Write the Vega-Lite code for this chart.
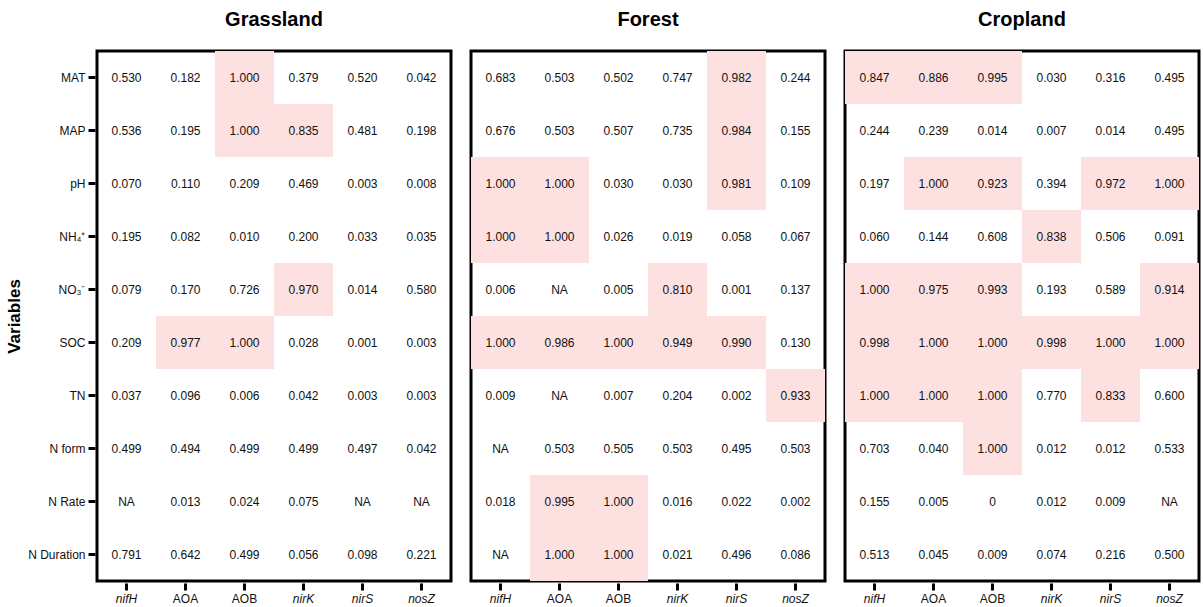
{
  "$schema": "https://vega.github.io/schema/vega-lite/v6.json",
  "padding": {"left": 5, "top": 10, "right": 0, "bottom": 0},
  "background": "white",
  "data": {
    "values": [
      {"eco": "Grassland", "var": "MAT", "gene": "nifH", "v": "0.530"},
      {"eco": "Grassland", "var": "MAT", "gene": "AOA", "v": "0.182"},
      {"eco": "Grassland", "var": "MAT", "gene": "AOB", "v": "1.000"},
      {"eco": "Grassland", "var": "MAT", "gene": "nirK", "v": "0.379"},
      {"eco": "Grassland", "var": "MAT", "gene": "nirS", "v": "0.520"},
      {"eco": "Grassland", "var": "MAT", "gene": "nosZ", "v": "0.042"},
      {"eco": "Grassland", "var": "MAP", "gene": "nifH", "v": "0.536"},
      {"eco": "Grassland", "var": "MAP", "gene": "AOA", "v": "0.195"},
      {"eco": "Grassland", "var": "MAP", "gene": "AOB", "v": "1.000"},
      {"eco": "Grassland", "var": "MAP", "gene": "nirK", "v": "0.835"},
      {"eco": "Grassland", "var": "MAP", "gene": "nirS", "v": "0.481"},
      {"eco": "Grassland", "var": "MAP", "gene": "nosZ", "v": "0.198"},
      {"eco": "Grassland", "var": "pH", "gene": "nifH", "v": "0.070"},
      {"eco": "Grassland", "var": "pH", "gene": "AOA", "v": "0.110"},
      {"eco": "Grassland", "var": "pH", "gene": "AOB", "v": "0.209"},
      {"eco": "Grassland", "var": "pH", "gene": "nirK", "v": "0.469"},
      {"eco": "Grassland", "var": "pH", "gene": "nirS", "v": "0.003"},
      {"eco": "Grassland", "var": "pH", "gene": "nosZ", "v": "0.008"},
      {"eco": "Grassland", "var": "NH₄⁺", "gene": "nifH", "v": "0.195"},
      {"eco": "Grassland", "var": "NH₄⁺", "gene": "AOA", "v": "0.082"},
      {"eco": "Grassland", "var": "NH₄⁺", "gene": "AOB", "v": "0.010"},
      {"eco": "Grassland", "var": "NH₄⁺", "gene": "nirK", "v": "0.200"},
      {"eco": "Grassland", "var": "NH₄⁺", "gene": "nirS", "v": "0.033"},
      {"eco": "Grassland", "var": "NH₄⁺", "gene": "nosZ", "v": "0.035"},
      {"eco": "Grassland", "var": "NO₃⁻", "gene": "nifH", "v": "0.079"},
      {"eco": "Grassland", "var": "NO₃⁻", "gene": "AOA", "v": "0.170"},
      {"eco": "Grassland", "var": "NO₃⁻", "gene": "AOB", "v": "0.726"},
      {"eco": "Grassland", "var": "NO₃⁻", "gene": "nirK", "v": "0.970"},
      {"eco": "Grassland", "var": "NO₃⁻", "gene": "nirS", "v": "0.014"},
      {"eco": "Grassland", "var": "NO₃⁻", "gene": "nosZ", "v": "0.580"},
      {"eco": "Grassland", "var": "SOC", "gene": "nifH", "v": "0.209"},
      {"eco": "Grassland", "var": "SOC", "gene": "AOA", "v": "0.977"},
      {"eco": "Grassland", "var": "SOC", "gene": "AOB", "v": "1.000"},
      {"eco": "Grassland", "var": "SOC", "gene": "nirK", "v": "0.028"},
      {"eco": "Grassland", "var": "SOC", "gene": "nirS", "v": "0.001"},
      {"eco": "Grassland", "var": "SOC", "gene": "nosZ", "v": "0.003"},
      {"eco": "Grassland", "var": "TN", "gene": "nifH", "v": "0.037"},
      {"eco": "Grassland", "var": "TN", "gene": "AOA", "v": "0.096"},
      {"eco": "Grassland", "var": "TN", "gene": "AOB", "v": "0.006"},
      {"eco": "Grassland", "var": "TN", "gene": "nirK", "v": "0.042"},
      {"eco": "Grassland", "var": "TN", "gene": "nirS", "v": "0.003"},
      {"eco": "Grassland", "var": "TN", "gene": "nosZ", "v": "0.003"},
      {"eco": "Grassland", "var": "N form", "gene": "nifH", "v": "0.499"},
      {"eco": "Grassland", "var": "N form", "gene": "AOA", "v": "0.494"},
      {"eco": "Grassland", "var": "N form", "gene": "AOB", "v": "0.499"},
      {"eco": "Grassland", "var": "N form", "gene": "nirK", "v": "0.499"},
      {"eco": "Grassland", "var": "N form", "gene": "nirS", "v": "0.497"},
      {"eco": "Grassland", "var": "N form", "gene": "nosZ", "v": "0.042"},
      {"eco": "Grassland", "var": "N Rate", "gene": "nifH", "v": "NA"},
      {"eco": "Grassland", "var": "N Rate", "gene": "AOA", "v": "0.013"},
      {"eco": "Grassland", "var": "N Rate", "gene": "AOB", "v": "0.024"},
      {"eco": "Grassland", "var": "N Rate", "gene": "nirK", "v": "0.075"},
      {"eco": "Grassland", "var": "N Rate", "gene": "nirS", "v": "NA"},
      {"eco": "Grassland", "var": "N Rate", "gene": "nosZ", "v": "NA"},
      {"eco": "Grassland", "var": "N Duration", "gene": "nifH", "v": "0.791"},
      {"eco": "Grassland", "var": "N Duration", "gene": "AOA", "v": "0.642"},
      {"eco": "Grassland", "var": "N Duration", "gene": "AOB", "v": "0.499"},
      {"eco": "Grassland", "var": "N Duration", "gene": "nirK", "v": "0.056"},
      {"eco": "Grassland", "var": "N Duration", "gene": "nirS", "v": "0.098"},
      {"eco": "Grassland", "var": "N Duration", "gene": "nosZ", "v": "0.221"},

      {"eco": "Forest", "var": "MAT", "gene": "nifH", "v": "0.683"},
      {"eco": "Forest", "var": "MAT", "gene": "AOA", "v": "0.503"},
      {"eco": "Forest", "var": "MAT", "gene": "AOB", "v": "0.502"},
      {"eco": "Forest", "var": "MAT", "gene": "nirK", "v": "0.747"},
      {"eco": "Forest", "var": "MAT", "gene": "nirS", "v": "0.982"},
      {"eco": "Forest", "var": "MAT", "gene": "nosZ", "v": "0.244"},
      {"eco": "Forest", "var": "MAP", "gene": "nifH", "v": "0.676"},
      {"eco": "Forest", "var": "MAP", "gene": "AOA", "v": "0.503"},
      {"eco": "Forest", "var": "MAP", "gene": "AOB", "v": "0.507"},
      {"eco": "Forest", "var": "MAP", "gene": "nirK", "v": "0.735"},
      {"eco": "Forest", "var": "MAP", "gene": "nirS", "v": "0.984"},
      {"eco": "Forest", "var": "MAP", "gene": "nosZ", "v": "0.155"},
      {"eco": "Forest", "var": "pH", "gene": "nifH", "v": "1.000"},
      {"eco": "Forest", "var": "pH", "gene": "AOA", "v": "1.000"},
      {"eco": "Forest", "var": "pH", "gene": "AOB", "v": "0.030"},
      {"eco": "Forest", "var": "pH", "gene": "nirK", "v": "0.030"},
      {"eco": "Forest", "var": "pH", "gene": "nirS", "v": "0.981"},
      {"eco": "Forest", "var": "pH", "gene": "nosZ", "v": "0.109"},
      {"eco": "Forest", "var": "NH₄⁺", "gene": "nifH", "v": "1.000"},
      {"eco": "Forest", "var": "NH₄⁺", "gene": "AOA", "v": "1.000"},
      {"eco": "Forest", "var": "NH₄⁺", "gene": "AOB", "v": "0.026"},
      {"eco": "Forest", "var": "NH₄⁺", "gene": "nirK", "v": "0.019"},
      {"eco": "Forest", "var": "NH₄⁺", "gene": "nirS", "v": "0.058"},
      {"eco": "Forest", "var": "NH₄⁺", "gene": "nosZ", "v": "0.067"},
      {"eco": "Forest", "var": "NO₃⁻", "gene": "nifH", "v": "0.006"},
      {"eco": "Forest", "var": "NO₃⁻", "gene": "AOA", "v": "NA"},
      {"eco": "Forest", "var": "NO₃⁻", "gene": "AOB", "v": "0.005"},
      {"eco": "Forest", "var": "NO₃⁻", "gene": "nirK", "v": "0.810"},
      {"eco": "Forest", "var": "NO₃⁻", "gene": "nirS", "v": "0.001"},
      {"eco": "Forest", "var": "NO₃⁻", "gene": "nosZ", "v": "0.137"},
      {"eco": "Forest", "var": "SOC", "gene": "nifH", "v": "1.000"},
      {"eco": "Forest", "var": "SOC", "gene": "AOA", "v": "0.986"},
      {"eco": "Forest", "var": "SOC", "gene": "AOB", "v": "1.000"},
      {"eco": "Forest", "var": "SOC", "gene": "nirK", "v": "0.949"},
      {"eco": "Forest", "var": "SOC", "gene": "nirS", "v": "0.990"},
      {"eco": "Forest", "var": "SOC", "gene": "nosZ", "v": "0.130"},
      {"eco": "Forest", "var": "TN", "gene": "nifH", "v": "0.009"},
      {"eco": "Forest", "var": "TN", "gene": "AOA", "v": "NA"},
      {"eco": "Forest", "var": "TN", "gene": "AOB", "v": "0.007"},
      {"eco": "Forest", "var": "TN", "gene": "nirK", "v": "0.204"},
      {"eco": "Forest", "var": "TN", "gene": "nirS", "v": "0.002"},
      {"eco": "Forest", "var": "TN", "gene": "nosZ", "v": "0.933"},
      {"eco": "Forest", "var": "N form", "gene": "nifH", "v": "NA"},
      {"eco": "Forest", "var": "N form", "gene": "AOA", "v": "0.503"},
      {"eco": "Forest", "var": "N form", "gene": "AOB", "v": "0.505"},
      {"eco": "Forest", "var": "N form", "gene": "nirK", "v": "0.503"},
      {"eco": "Forest", "var": "N form", "gene": "nirS", "v": "0.495"},
      {"eco": "Forest", "var": "N form", "gene": "nosZ", "v": "0.503"},
      {"eco": "Forest", "var": "N Rate", "gene": "nifH", "v": "0.018"},
      {"eco": "Forest", "var": "N Rate", "gene": "AOA", "v": "0.995"},
      {"eco": "Forest", "var": "N Rate", "gene": "AOB", "v": "1.000"},
      {"eco": "Forest", "var": "N Rate", "gene": "nirK", "v": "0.016"},
      {"eco": "Forest", "var": "N Rate", "gene": "nirS", "v": "0.022"},
      {"eco": "Forest", "var": "N Rate", "gene": "nosZ", "v": "0.002"},
      {"eco": "Forest", "var": "N Duration", "gene": "nifH", "v": "NA"},
      {"eco": "Forest", "var": "N Duration", "gene": "AOA", "v": "1.000"},
      {"eco": "Forest", "var": "N Duration", "gene": "AOB", "v": "1.000"},
      {"eco": "Forest", "var": "N Duration", "gene": "nirK", "v": "0.021"},
      {"eco": "Forest", "var": "N Duration", "gene": "nirS", "v": "0.496"},
      {"eco": "Forest", "var": "N Duration", "gene": "nosZ", "v": "0.086"},

      {"eco": "Cropland", "var": "MAT", "gene": "nifH", "v": "0.847"},
      {"eco": "Cropland", "var": "MAT", "gene": "AOA", "v": "0.886"},
      {"eco": "Cropland", "var": "MAT", "gene": "AOB", "v": "0.995"},
      {"eco": "Cropland", "var": "MAT", "gene": "nirK", "v": "0.030"},
      {"eco": "Cropland", "var": "MAT", "gene": "nirS", "v": "0.316"},
      {"eco": "Cropland", "var": "MAT", "gene": "nosZ", "v": "0.495"},
      {"eco": "Cropland", "var": "MAP", "gene": "nifH", "v": "0.244"},
      {"eco": "Cropland", "var": "MAP", "gene": "AOA", "v": "0.239"},
      {"eco": "Cropland", "var": "MAP", "gene": "AOB", "v": "0.014"},
      {"eco": "Cropland", "var": "MAP", "gene": "nirK", "v": "0.007"},
      {"eco": "Cropland", "var": "MAP", "gene": "nirS", "v": "0.014"},
      {"eco": "Cropland", "var": "MAP", "gene": "nosZ", "v": "0.495"},
      {"eco": "Cropland", "var": "pH", "gene": "nifH", "v": "0.197"},
      {"eco": "Cropland", "var": "pH", "gene": "AOA", "v": "1.000"},
      {"eco": "Cropland", "var": "pH", "gene": "AOB", "v": "0.923"},
      {"eco": "Cropland", "var": "pH", "gene": "nirK", "v": "0.394"},
      {"eco": "Cropland", "var": "pH", "gene": "nirS", "v": "0.972"},
      {"eco": "Cropland", "var": "pH", "gene": "nosZ", "v": "1.000"},
      {"eco": "Cropland", "var": "NH₄⁺", "gene": "nifH", "v": "0.060"},
      {"eco": "Cropland", "var": "NH₄⁺", "gene": "AOA", "v": "0.144"},
      {"eco": "Cropland", "var": "NH₄⁺", "gene": "AOB", "v": "0.608"},
      {"eco": "Cropland", "var": "NH₄⁺", "gene": "nirK", "v": "0.838"},
      {"eco": "Cropland", "var": "NH₄⁺", "gene": "nirS", "v": "0.506"},
      {"eco": "Cropland", "var": "NH₄⁺", "gene": "nosZ", "v": "0.091"},
      {"eco": "Cropland", "var": "NO₃⁻", "gene": "nifH", "v": "1.000"},
      {"eco": "Cropland", "var": "NO₃⁻", "gene": "AOA", "v": "0.975"},
      {"eco": "Cropland", "var": "NO₃⁻", "gene": "AOB", "v": "0.993"},
      {"eco": "Cropland", "var": "NO₃⁻", "gene": "nirK", "v": "0.193"},
      {"eco": "Cropland", "var": "NO₃⁻", "gene": "nirS", "v": "0.589"},
      {"eco": "Cropland", "var": "NO₃⁻", "gene": "nosZ", "v": "0.914"},
      {"eco": "Cropland", "var": "SOC", "gene": "nifH", "v": "0.998"},
      {"eco": "Cropland", "var": "SOC", "gene": "AOA", "v": "1.000"},
      {"eco": "Cropland", "var": "SOC", "gene": "AOB", "v": "1.000"},
      {"eco": "Cropland", "var": "SOC", "gene": "nirK", "v": "0.998"},
      {"eco": "Cropland", "var": "SOC", "gene": "nirS", "v": "1.000"},
      {"eco": "Cropland", "var": "SOC", "gene": "nosZ", "v": "1.000"},
      {"eco": "Cropland", "var": "TN", "gene": "nifH", "v": "1.000"},
      {"eco": "Cropland", "var": "TN", "gene": "AOA", "v": "1.000"},
      {"eco": "Cropland", "var": "TN", "gene": "AOB", "v": "1.000"},
      {"eco": "Cropland", "var": "TN", "gene": "nirK", "v": "0.770"},
      {"eco": "Cropland", "var": "TN", "gene": "nirS", "v": "0.833"},
      {"eco": "Cropland", "var": "TN", "gene": "nosZ", "v": "0.600"},
      {"eco": "Cropland", "var": "N form", "gene": "nifH", "v": "0.703"},
      {"eco": "Cropland", "var": "N form", "gene": "AOA", "v": "0.040"},
      {"eco": "Cropland", "var": "N form", "gene": "AOB", "v": "1.000"},
      {"eco": "Cropland", "var": "N form", "gene": "nirK", "v": "0.012"},
      {"eco": "Cropland", "var": "N form", "gene": "nirS", "v": "0.012"},
      {"eco": "Cropland", "var": "N form", "gene": "nosZ", "v": "0.533"},
      {"eco": "Cropland", "var": "N Rate", "gene": "nifH", "v": "0.155"},
      {"eco": "Cropland", "var": "N Rate", "gene": "AOA", "v": "0.005"},
      {"eco": "Cropland", "var": "N Rate", "gene": "AOB", "v": "0"},
      {"eco": "Cropland", "var": "N Rate", "gene": "nirK", "v": "0.012"},
      {"eco": "Cropland", "var": "N Rate", "gene": "nirS", "v": "0.009"},
      {"eco": "Cropland", "var": "N Rate", "gene": "nosZ", "v": "NA"},
      {"eco": "Cropland", "var": "N Duration", "gene": "nifH", "v": "0.513"},
      {"eco": "Cropland", "var": "N Duration", "gene": "AOA", "v": "0.045"},
      {"eco": "Cropland", "var": "N Duration", "gene": "AOB", "v": "0.009"},
      {"eco": "Cropland", "var": "N Duration", "gene": "nirK", "v": "0.074"},
      {"eco": "Cropland", "var": "N Duration", "gene": "nirS", "v": "0.216"},
      {"eco": "Cropland", "var": "N Duration", "gene": "nosZ", "v": "0.500"}
    ]
  },
  "facet": {
    "column": {
      "field": "eco",
      "type": "nominal",
      "sort": ["Grassland", "Forest", "Cropland"],
      "title": null,
      "header": {
        "labelFont": "Liberation Sans",
        "labelFontSize": 20,
        "labelFontWeight": "bold",
        "labelColor": "black",
        "labelPadding": 19
      }
    }
  },
  "spacing": 16,
  "spec": {
    "width": 354,
    "height": 530,
    "encoding": {
      "x": {
        "field": "gene",
        "type": "nominal",
        "scale": {"domain": ["nifH", "AOA", "AOB", "nirK", "nirS", "nosZ"], "paddingInner": 0, "paddingOuter": 0},
        "axis": {
          "title": null,
          "labelAngle": 0,
          "labelFontStyle": {"condition": {"test": "datum.value === 'AOA' || datum.value === 'AOB'", "value": "normal"}, "value": "italic"}
        }
      },
      "y": {
        "field": "var",
        "type": "nominal",
        "scale": {"domain": ["MAT", "MAP", "pH", "NH₄⁺", "NO₃⁻", "SOC", "TN", "N form", "N Rate", "N Duration"], "paddingInner": 0, "paddingOuter": 0},
        "axis": {
          "title": "Variables",
          "titleFontSize": 17,
          "titleFontWeight": "bold",
          "titlePadding": 4
        }
      }
    },
    "layer": [
      {
        "transform": [{"filter": "toNumber(datum.v) >= 0.8"}],
        "mark": {"type": "rect", "color": "#fde0e0"}
      },
      {
        "mark": {"type": "text", "font": "Liberation Sans", "fontSize": 12, "color": "#111111"},
        "encoding": {"text": {"field": "v", "type": "nominal"}}
      }
    ]
  },
  "config": {
    "view": {"stroke": "black", "strokeWidth": 3},
    "axis": {
      "domain": false,
      "grid": false,
      "ticks": true,
      "tickColor": "black",
      "tickWidth": 3,
      "tickSize": 7,
      "labelFont": "Liberation Sans",
      "labelFontSize": 12,
      "labelColor": "#111111",
      "labelPadding": 3,
      "titleFont": "Liberation Sans",
      "titleColor": "black"
    }
  }
}
